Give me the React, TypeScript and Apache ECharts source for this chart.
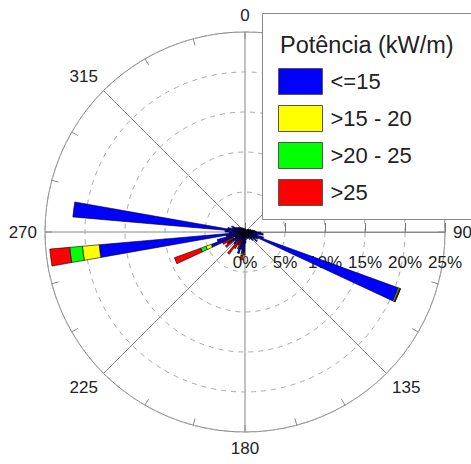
import React, { useEffect, useRef } from 'react';
import * as echarts from 'echarts';

const FONT = 'Liberation Sans, Arial, Helvetica, sans-serif';

// Direction bins of 5 degrees (start of each bin, compass degrees)
const sectorStarts = Array.from({ length: 72 }, (_, i) => i * 5);

const seriesNames = ['<=15', '>15 - 20', '>20 - 25', '>25'];
const seriesColors = ['#0000FF', '#FFFF00', '#00FF00', '#FF0000'];

// Frequency (%) per 5° bin, index 0 = 0-5°, ..., 71 = 355-360°
const powerLe15 = [
  0.4, 0.3, 0.3, 0.2, 0.3, 0.2, 0.3, 0.4, 0.3, 0.5, 0.4, 0.6, 0.5, 0.8, 0.7, 1.0, 1.2, 1.4,
  2.0, 2.3, 1.6, 2.4, 20.4, 1.8, 1.5, 1.9, 1.2, 1.4, 0.9, 1.1, 0.8, 0.9, 0.6, 0.8, 1.0, 1.4,
  2.4, 2.6, 2.2, 2.8, 1.0, 1.8, 1.2, 1.5, 2.0, 1.6, 1.8, 2.6, 1.4, 4.5, 3.6, 2.4, 18.3, 2.0,
  2.5, 21.6, 2.2, 1.6, 1.8, 1.2, 1.0, 0.9, 0.7, 0.8, 0.6, 0.5, 0.6, 0.4, 0.5, 0.4, 0.3, 0.4,
];
const power15to20 = [
  0, 0, 0, 0, 0, 0, 0, 0, 0, 0, 0, 0, 0, 0, 0, 0, 0, 0,
  0, 0, 0, 0, 0.15, 0, 0, 0, 0, 0, 0, 0, 0, 0, 0, 0, 0, 0,
  0, 0.1, 0, 0, 0, 0, 0, 0, 0, 0, 0, 0, 0.2, 0.7, 0, 0, 2.1, 0,
  0, 0, 0, 0, 0, 0, 0, 0, 0, 0, 0, 0, 0, 0, 0, 0, 0, 0,
];
const power20to25 = [
  0, 0, 0, 0, 0, 0, 0, 0, 0, 0, 0, 0, 0, 0, 0, 0, 0, 0,
  0, 0, 0, 0, 0.1, 0, 0, 0, 0, 0, 0, 0, 0, 0, 0, 0, 0, 0,
  0.1, 0.3, 0, 0, 0, 0, 0, 0, 0, 0, 0, 0, 0.1, 0.7, 0, 0, 1.6, 0,
  0, 0, 0, 0, 0, 0, 0, 0, 0, 0, 0, 0, 0, 0, 0, 0, 0, 0,
];
const powerGt25 = [
  0, 0, 0, 0, 0, 0, 0, 0, 0, 0, 0, 0, 0, 0, 0, 0, 0, 0,
  0, 0, 0, 0, 0.05, 0, 0, 0, 0, 0, 0, 0, 0, 0, 0, 0, 0, 0,
  0.4, 0.5, 0, 0, 1.3, 0, 1.2, 1.9, 0, 0, 1.2, 0, 1.4, 3.5, 0, 0, 2.5, 0,
  0, 0, 0, 0, 0, 0, 0, 0, 0, 0, 0, 0, 0, 0, 0, 0, 0, 0,
];
const seriesValues = [powerLe15, power15to20, power20to25, powerGt25];

const legendTitle = 'Potência (kW/m)';

export default function App() {
  const ref = useRef<HTMLDivElement>(null);
  useEffect(() => {
    if (!ref.current) return;
    const chart = echarts.init(ref.current, undefined, { renderer: 'svg' });
    const option: any = {
      animation: false,
      backgroundColor: '#ffffff',
      title: {
        text: legendTitle,
        left: 280,
        top: 33,
        padding: 0,
        z: 20,
        textStyle: { fontSize: 23.5, fontWeight: 'normal', color: '#222', fontFamily: FONT },
      },
      graphic: [
        {
          type: 'rect',
          z: 10,
          shape: { x: 262.5, y: 13.5, width: 215, height: 206 },
          style: { fill: '#ffffff', stroke: '#888', lineWidth: 1 },
        },
      ],
      legend: {
        orient: 'vertical',
        left: 278,
        top: 68,
        padding: 0,
        itemWidth: 44,
        itemHeight: 26,
        itemGap: 10,
        icon: 'rect',
        z: 20,
        itemStyle: { borderColor: '#555', borderWidth: 1 },
        textStyle: { fontSize: 22, color: '#222', fontFamily: FONT, padding: [0, 0, 0, 3] },
        data: seriesNames,
      },
      polar: [
        { center: [245, 232], radius: 200 },
        { center: [245, 232], radius: 200 },
      ],
      angleAxis: [
        {
          polarIndex: 0,
          type: 'value',
          startAngle: 0,
          clockwise: true,
          min: 90,
          max: 450,
          interval: 45,
          axisLine: { show: true, lineStyle: { color: '#888', width: 1 } },
          axisTick: { show: true, inside: true, length: 7, lineStyle: { color: '#888' } },
          minorTick: { show: true, splitNumber: 3, length: 7, lineStyle: { color: '#888' } },
          splitLine: { show: true, lineStyle: { color: '#888', width: 1 } },
          axisLabel: {
            margin: 8,
            fontSize: 17,
            color: '#222',
            fontFamily: FONT,
            formatter: (v: number) => (v === 450 ? '' : String(v % 360)),
          },
        },
        {
          polarIndex: 1,
          type: 'category',
          data: sectorStarts,
          startAngle: 90,
          clockwise: true,
          boundaryGap: true,
          axisLine: { show: false },
          axisTick: { show: false },
          axisLabel: { show: false },
          splitLine: { show: false },
        },
      ],
      radiusAxis: [
        {
          polarIndex: 0,
          type: 'value',
          min: 0,
          max: 25,
          interval: 5,
          z: 1,
          axisLine: { show: true, lineStyle: { color: '#888', width: 1 } },
          axisTick: { show: true, length: 9, lineStyle: { color: '#777', width: 1 } },
          axisLabel: {
            formatter: '{value}%',
            fontSize: 17,
            color: '#222',
            fontFamily: FONT,
            margin: -22,
            verticalAlign: 'top',
          },
          splitLine: { show: true, lineStyle: { color: '#aaa', type: [5, 5], width: 1 } },
        },
        {
          polarIndex: 1,
          type: 'value',
          min: 0,
          max: 25,
          axisLine: { show: false },
          axisTick: { show: false },
          axisLabel: { show: false },
          splitLine: { show: false },
        },
      ],
      series: seriesNames.map((name, k) => ({
        type: 'bar',
        name,
        coordinateSystem: 'polar',
        polarIndex: 1,
        stack: 'power',
        barCategoryGap: '0%',
        z: 3,
        data: seriesValues[k].map((v) => (v === 0 ? '-' : v)),
        itemStyle: { color: seriesColors[k], borderColor: '#000', borderWidth: 0.6 },
      })),
    };
    chart.setOption(option);
    return () => chart.dispose();
  }, []);
  return (
    <div
      ref={ref}
      style={{ position: 'fixed', left: 0, top: 0, width: 471, height: 464, background: '#fff' }}
    />
  );
}
